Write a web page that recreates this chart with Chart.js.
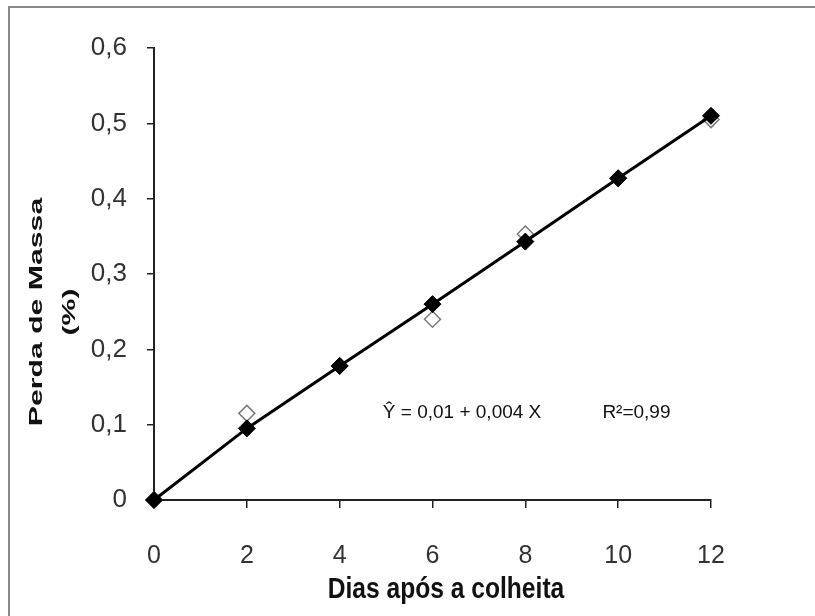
<!DOCTYPE html>
<html>
<head>
<meta charset="utf-8">
<script src="https://cdn.jsdelivr.net/npm/chart.js@4"></script>
<style>
  body { margin: 0; background: #fff; }
  #wrap { width: 815px; height: 616px; position: relative; }
</style>
</head>
<body>
<div id="wrap"><canvas id="chart1" width="815" height="616"></canvas></div>
<script>
// days after harvest
const days = [0, 2, 4, 6, 8, 10, 12];
// observed mass loss (open diamonds)
const observed = [0, 0.115, 0.178, 0.24, 0.353, 0.427, 0.505];
// fitted values (filled diamonds on the regression line)
const fitted = [0, 0.095, 0.178, 0.26, 0.343, 0.427, 0.51];
const yTicks = [0, 0.1, 0.2, 0.3, 0.4, 0.5, 0.6];
const xTitle = 'Dias após a colheita';
const yTitle = ['Perda de Massa', '(%)'];
const equation = 'Ŷ = 0,01 + 0,004 X';
const rSquared = 'R²=0,99';

const sans = "'Liberation Sans', Arial, sans-serif";

// frame + axis titles + equation
const extras = {
    id: 'extras',
    beforeDraw(chart) {
        const c = chart.ctx;
        c.save();
        c.strokeStyle = '#8a8a8a';
        c.lineWidth = 2;
        c.beginPath();
        c.moveTo(9, 616);
        c.lineTo(9, 7);
        c.lineTo(815, 7);
        c.stroke();
        c.restore();
    },
    afterDraw(chart) {
        const c = chart.ctx;
        const xs = chart.scales.x, ys = chart.scales.y;
        c.save();
        c.fillStyle = '#111';
        // x title (narrow bold in the original)
        c.font = "bold 30px " + sans;
        c.textAlign = 'center';
        c.textBaseline = 'alphabetic';
        c.translate(446, 598);
        c.scale(0.82, 1);
        c.fillText(xTitle, 0, 0);
        c.restore();

        // y title, stretched along the text like the original
        c.save();
        c.fillStyle = '#111';
        c.font = "bold 19px " + sans;
        c.textAlign = 'center';
        c.translate(42, 312);
        c.rotate(-Math.PI / 2);
        c.scale(1.59, 1);
        c.fillText(yTitle[0], 0, 0);
        c.fillText(yTitle[1], 0, 33);
        c.restore();

        c.save();
        c.fillStyle = '#111';
        c.font = "19px " + sans;
        c.textBaseline = 'alphabetic';
        c.fillText(equation, xs.getPixelForValue(4.93), ys.getPixelForValue(0.109));
        c.fillText(rSquared, xs.getPixelForValue(9.66), ys.getPixelForValue(0.109));
        c.restore();
    }
};

const ctx1 = document.getElementById('chart1').getContext('2d');
const chart1 = new Chart(ctx1, {
    type: 'scatter',
    data: {
        datasets: [{
            label: 'Ajustado',
            data: days.map((d, i) => ({ x: d, y: fitted[i] })),
            showLine: true,
            clip: false,
            borderColor: '#000',
            borderWidth: 3,
            backgroundColor: '#000',
            pointStyle: 'rectRot',
            pointRadius: 8.5,
            pointBorderWidth: 1,
            pointBorderColor: '#000',
            pointBackgroundColor: '#000',
            order: 0
        }, {
            label: 'Observado',
            data: days.map((d, i) => ({ x: d, y: observed[i] })),
            showLine: false,
            clip: false,
            pointStyle: 'rectRot',
            pointRadius: 8,
            pointBorderWidth: 1.5,
            pointBorderColor: '#7a7a7a',
            pointBackgroundColor: '#fff',
            order: 1
        }]
    },
    options: {
        responsive: false,
        animation: false,
        layout: { padding: { left: 0, top: 48, right: 104, bottom: 0 } },
        plugins: {
            legend: { display: false },
            tooltip: { enabled: false }
        },
        scales: {
            x: {
                type: 'linear',
                min: 0,
                max: 12,
                ticks: {
                    stepSize: 2,
                    padding: 33,
                    color: '#333',
                    font: { family: sans, size: 25 }
                },
                grid: { drawOnChartArea: false, drawTicks: true, tickLength: 8, color: '#222', lineWidth: 1.5 },
                border: { display: true, color: '#222', width: 2 },
                afterFit(scale) { scale.height = 116; }
            },
            y: {
                min: 0,
                max: 0.6,
                afterBuildTicks(scale) { scale.ticks = yTicks.map(v => ({ value: v })); },
                ticks: {
                    padding: 20,
                    color: '#333',
                    font: { family: sans, size: 26 },
                    callback: v => v === 0 ? '0' : v.toFixed(1).replace('.', ',')
                },
                grid: { drawOnChartArea: false, drawTicks: true, tickLength: 7, color: '#222', lineWidth: 1.5 },
                border: { display: true, color: '#222', width: 2 },
                afterFit(scale) { scale.width = 154; }
            }
        }
    },
    plugins: [extras]
});
</script>
</body>
</html>
